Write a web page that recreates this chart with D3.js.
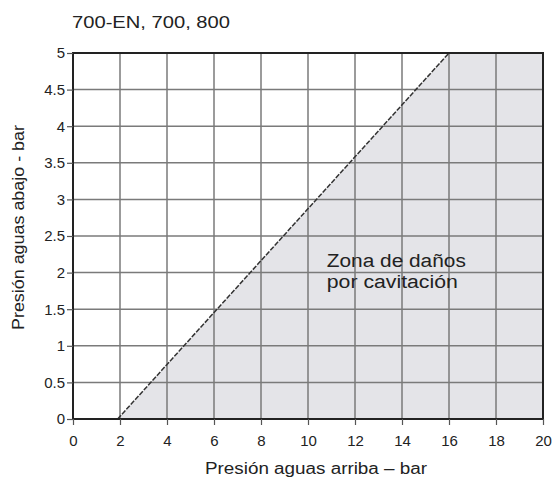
<!DOCTYPE html>
<html>
<head>
<meta charset="utf-8">
<script src="https://cdn.jsdelivr.net/npm/d3@7"></script>
<style>
  body { margin: 0; background: #fff; }
  svg { font-family: "Liberation Sans", Arial, sans-serif; }
  .tick text { font-size: 15px; fill: #222; }
</style>
</head>
<body>
<svg width="552" height="480"></svg>
<script>
const title = "700-EN, 700, 800";
const xLabel = "Presión aguas arriba \u2013 bar";
const yLabel = "Presión aguas abajo - bar";
const zoneLabel = ["Zona de daños", "por cavitación"];
const xTicks = [0, 2, 4, 6, 8, 10, 12, 14, 16, 18, 20];
const yTicks = [0, 0.5, 1, 1.5, 2, 2.5, 3, 3.5, 4, 4.5, 5];
// cavitation limit line (upstream, downstream)
const limitX = [1.9, 16];
const limitY = [0, 5];

const svg = d3.select("svg"),
      margin = { top: 53, right: 9, bottom: 61, left: 73 },
      width = +svg.attr("width") - margin.left - margin.right,
      height = +svg.attr("height") - margin.top - margin.bottom;

const x = d3.scaleLinear().domain([0, 20]).range([0, width]);
const y = d3.scaleLinear().domain([0, 5]).range([height, 0]);

const g = svg.append("g").attr("transform", `translate(${margin.left},${margin.top})`);

// shaded damage zone
const zone = [[limitX[0], limitY[0]], [limitX[1], limitY[1]], [20, 5], [20, 0]];
g.append("path")
  .datum(zone)
  .attr("fill", "#e4e4e8")
  .attr("d", d3.line().x(d => x(d[0])).y(d => y(d[1])));

// grid
g.selectAll(".vgrid").data(xTicks).join("line")
  .attr("x1", d => x(d)).attr("x2", d => x(d))
  .attr("y1", 0).attr("y2", height)
  .attr("stroke", "#7a7a7a").attr("stroke-width", 1.5);
g.selectAll(".hgrid").data(yTicks).join("line")
  .attr("y1", d => y(d)).attr("y2", d => y(d))
  .attr("x1", 0).attr("x2", width)
  .attr("stroke", "#7a7a7a").attr("stroke-width", 1.5);

// limit line
g.append("path")
  .datum(limitX.map((v, i) => [v, limitY[i]]))
  .attr("fill", "none")
  .attr("stroke", "#333")
  .attr("stroke-width", 1.5)
  .attr("stroke-dasharray", "5,1.5")
  .attr("d", d3.line().x(d => x(d[0])).y(d => y(d[1])));

// frame
g.append("rect")
  .attr("width", width).attr("height", height)
  .attr("fill", "none").attr("stroke", "#222").attr("stroke-width", 2);

// axes
const xAxis = g.append("g").attr("transform", `translate(0,${height})`)
  .call(d3.axisBottom(x).tickValues(xTicks).tickSize(6).tickPadding(10).tickFormat(d3.format("d")));
const yAxis = g.append("g")
  .call(d3.axisLeft(y).tickValues(yTicks).tickSize(6).tickPadding(2).tickFormat(d => d));
[xAxis, yAxis].forEach(a => {
  a.select(".domain").remove();
  a.selectAll(".tick line").attr("stroke", "#555").attr("stroke-width", 1.2);
});

// labels
svg.append("text")
  .attr("x", 72).attr("y", 28)
  .attr("font-size", 17).attr("fill", "#222")
  .attr("textLength", 158).attr("lengthAdjust", "spacingAndGlyphs")
  .text(title);

svg.append("text")
  .attr("x", 205).attr("y", 474)
  .attr("font-size", 16).attr("fill", "#222")
  .attr("textLength", 222).attr("lengthAdjust", "spacingAndGlyphs")
  .text(xLabel);

svg.append("text")
  .attr("transform", "rotate(-90)")
  .attr("x", -330).attr("y", 24)
  .attr("font-size", 16).attr("fill", "#222")
  .attr("textLength", 205).attr("lengthAdjust", "spacingAndGlyphs")
  .text(yLabel);

const zoneWidths = [139, 131];
g.append("text")
  .attr("font-size", 18).attr("fill", "#222")
  .selectAll("tspan").data(zoneLabel).join("tspan")
  .attr("x", x(10.8))
  .attr("y", (d, i) => 267 - margin.top + i * 21)
  .attr("textLength", (d, i) => zoneWidths[i])
  .attr("lengthAdjust", "spacingAndGlyphs")
  .text(d => d);
</script>
</body>
</html>
